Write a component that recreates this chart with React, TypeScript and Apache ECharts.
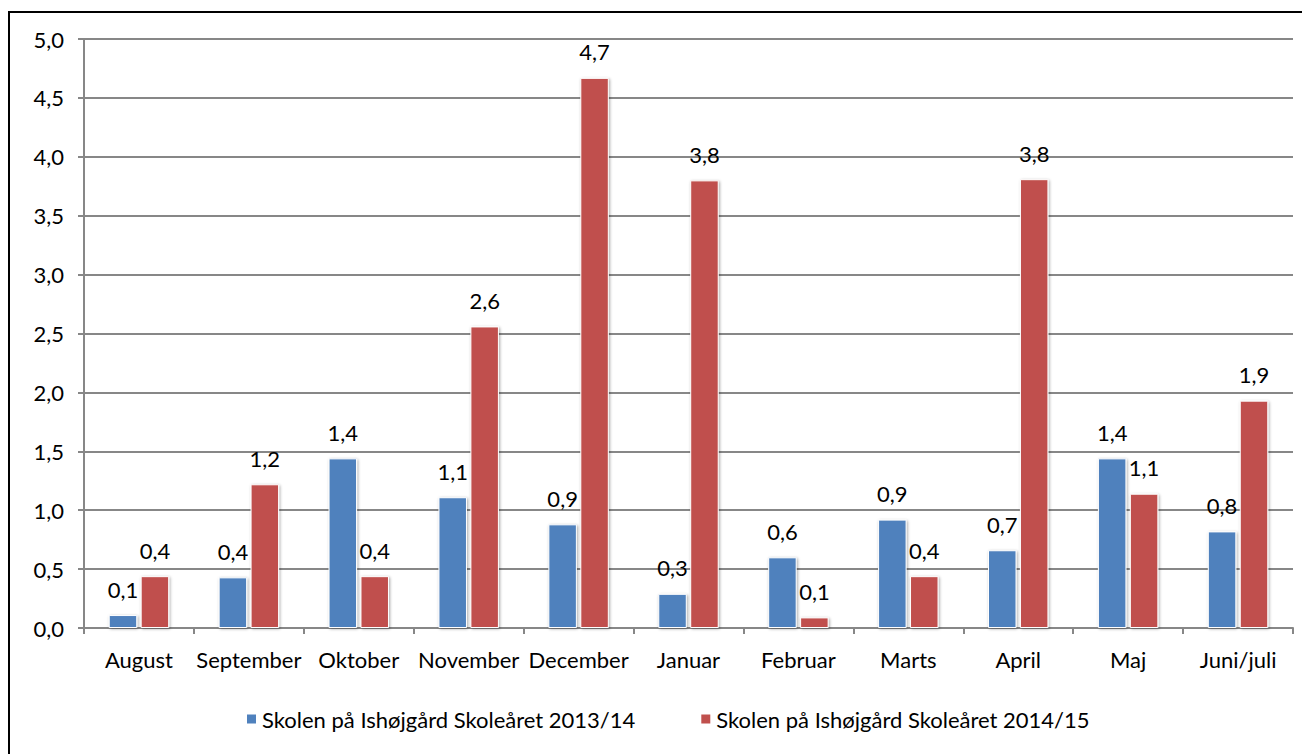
import React, { useEffect, useRef } from "react";
import * as echarts from "echarts";

const categories = ["August", "September", "Oktober", "November", "December", "Januar", "Februar", "Marts", "April", "Maj", "Juni/juli"];
const series2013 = [0.11, 0.43, 1.44, 1.11, 0.88, 0.29, 0.6, 0.92, 0.66, 1.44, 0.82];
const series2014 = [0.44, 1.22, 0.44, 2.56, 4.67, 3.8, 0.09, 0.44, 3.81, 1.14, 1.93];
const seriesNames = ["Skolen på Ishøjgård Skoleåret 2013/14", "Skolen på Ishøjgård Skoleåret 2014/15"];
const colors = ["#4F81BD", "#C0504D"];

const FONT = "Lato";
const FS = 22;
const fmt = (v: number) => v.toFixed(1).replace(".", ",");

export default function App() {
  const ref = useRef<HTMLDivElement>(null);
  useEffect(() => {
    if (!ref.current) return;
    const chart = echarts.init(ref.current, undefined, { renderer: "svg" });
    const mkSeries = (name: string, data: number[], color: string) => ({
      name,
      type: "bar",
      data,
      barGap: "12%",
      barCategoryGap: "45%",
      itemStyle: {
        color,
        borderColor: "#ffffff",
        borderWidth: 1,
        shadowBlur: 3,
        shadowColor: "rgba(0,0,0,0.35)",
        shadowOffsetX: 1,
        shadowOffsetY: 1,
      },
      label: {
        show: true,
        position: "top",
        distance: 15,
        formatter: (p: any) => fmt(p.value),
        color: "#000",
        fontFamily: FONT,
        fontSize: FS,
      },
    });
    chart.setOption({
      animation: false,
      backgroundColor: "#ffffff",
      textStyle: { fontFamily: FONT },
      graphic: [
        {
          type: "rect",
          shape: { x: 9, y: 12, width: 1400, height: 900 },
          style: { fill: "none", stroke: "#000", lineWidth: 2 },
          silent: true,
          z: 100,
        },
      ],
      grid: { left: 84, right: 9, top: 39, bottom: 126, containLabel: false },
      legend: {
        data: seriesNames,
        left: 240,
        top: 703,
        icon: "rect",
        itemWidth: 11,
        itemHeight: 11,
        itemGap: 64,
        textStyle: { fontFamily: FONT, fontSize: FS, color: "#000" },
      },
      xAxis: {
        type: "category",
        data: categories,
        axisLine: { show: true, lineStyle: { color: "#878787", width: 2 } },
        axisTick: { show: true, length: 6, lineStyle: { color: "#878787", width: 2 } },
        axisLabel: { color: "#000", fontFamily: FONT, fontSize: FS, margin: 20, interval: 0 },
      },
      yAxis: {
        type: "value",
        min: 0,
        max: 5,
        interval: 0.5,
        axisLine: { show: true, lineStyle: { color: "#878787", width: 2 } },
        axisTick: { show: true, length: 6, lineStyle: { color: "#878787", width: 2 } },
        splitLine: { show: true, lineStyle: { color: "#878787", width: 2 } },
        axisLabel: { color: "#000", fontFamily: FONT, fontSize: FS, margin: 20, formatter: (v: number) => fmt(v) },
      },
      series: [mkSeries(seriesNames[0], series2013, colors[0]), mkSeries(seriesNames[1], series2014, colors[1])],
    });
    return () => chart.dispose();
  }, []);
  return <div ref={ref} style={{ position: "fixed", left: 0, top: 0, width: 1302, height: 754 }} />;
}
